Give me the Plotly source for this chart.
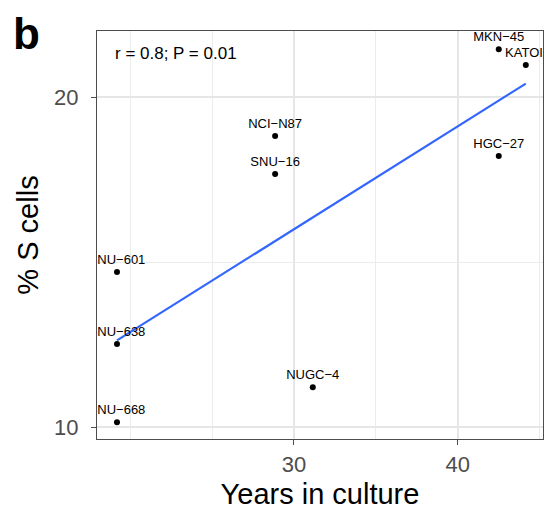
import numpy as np
import plotly.graph_objects as go

# Gastric cancer cell lines: years in culture vs. fraction of cells in S phase
cell_lines = ["MKN−45", "KATOII", "NCI−N87", "SNU−16", "HGC−27",
              "SNU−601", "SNU−638", "SNU−668", "NUGC−4"]
years_in_culture = [42.5, 44.15, 28.85, 28.85, 42.5, 19.2, 19.2, 19.2, 31.15]
s_cells_pct = [21.45, 20.97, 18.82, 17.67, 18.21, 14.70, 12.52, 10.15, 11.21]
stat_label = "r = 0.8; P = 0.01"
panel_tag = "b"

x_ticks = [30, 40]
x_minor = [20, 25, 35, 45]
y_ticks = [10, 20]
y_minor = [15]

FONT = "Liberation Sans, Arial, Helvetica, sans-serif"

# Least-squares fit drawn across the observed range of x
slope, intercept = np.polyfit(years_in_culture, s_cells_pct, 1)
fit_x = np.array([min(years_in_culture), max(years_in_culture)])
fit_y = slope * fit_x + intercept

fig = go.Figure()

fig.add_trace(go.Scatter(
    x=fit_x, y=fit_y, mode="lines",
    line=dict(color="#3366FF", width=2.2),
    hoverinfo="skip", showlegend=False,
))

fig.add_trace(go.Scatter(
    x=years_in_culture, y=s_cells_pct, mode="markers+text",
    text=cell_lines, textposition="top center",
    textfont=dict(family=FONT, size=13, color="black"),
    marker=dict(color="black", size=6),
    cliponaxis=True, showlegend=False,
))

axis_common = dict(
    showline=True, mirror=True, linecolor="#4D4D4D", linewidth=1.2,
    ticks="outside", ticklen=5, tickwidth=1.3, tickcolor="#4D4D4D",
    tickfont=dict(family=FONT, size=22, color="#4D4D4D"),
    showgrid=True, gridcolor="#E6E6E6", gridwidth=2,
    zeroline=False,
)

fig.update_xaxes(
    range=[17.98, 45.2], tickvals=x_ticks,
    minor=dict(tickvals=x_minor, showgrid=True, gridcolor="#ECECEC", gridwidth=1.4, ticks=""),
    title=dict(text="Years in culture", font=dict(family=FONT, size=29, color="black"), standoff=8),
    **axis_common,
)
fig.update_yaxes(
    range=[9.64, 22.0], tickvals=y_ticks, ticklabelstandoff=8,
    minor=dict(tickvals=y_minor, showgrid=True, gridcolor="#ECECEC", gridwidth=1.4, ticks=""),
    title=dict(text="% S cells", font=dict(family=FONT, size=29, color="black"), standoff=6),
    **axis_common,
)

fig.add_annotation(
    x=0.036, y=0.946, xref="paper", yref="paper",
    text=stat_label, showarrow=False, xanchor="left", yanchor="middle",
    font=dict(family=FONT, size=17, color="black"),
)
fig.add_annotation(
    x=-0.157, y=0.995, xref="paper", yref="paper",
    text=f"<b>{panel_tag}</b>", showarrow=False, xanchor="center", yanchor="middle",
    font=dict(family=FONT, size=44, color="black"),
)

fig.update_layout(
    width=545, height=510,
    margin=dict(l=97, r=2, t=31, b=71),
    paper_bgcolor="white", plot_bgcolor="white",
    font=dict(family=FONT),
)

fig.write_html("out.html")
